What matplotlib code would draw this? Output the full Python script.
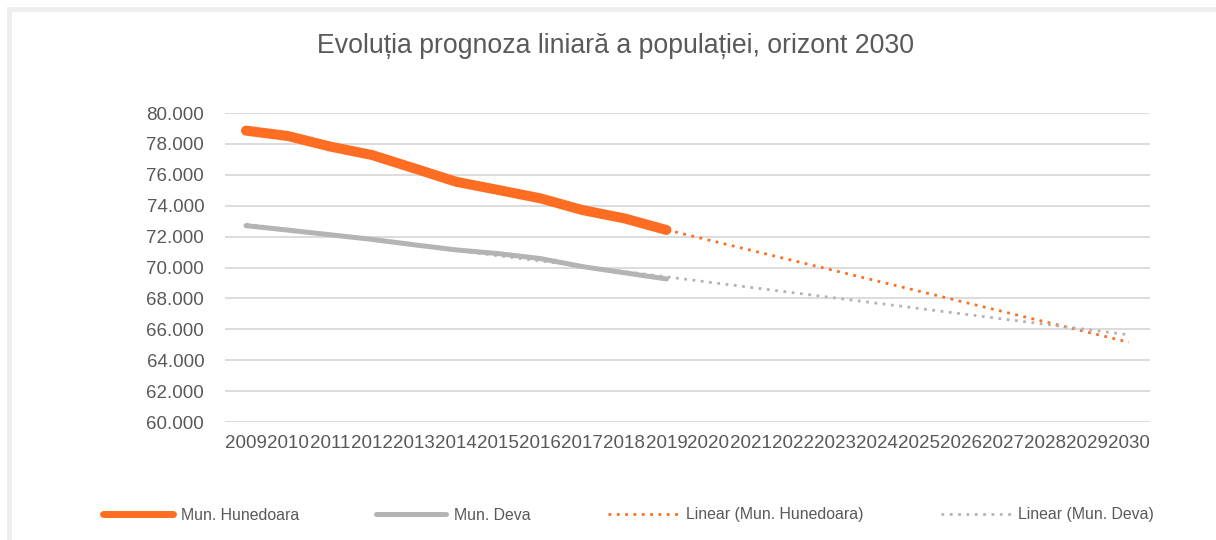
import numpy as np
import matplotlib.pyplot as plt
from matplotlib.ticker import FuncFormatter
from matplotlib.patches import Rectangle

plt.rcParams['font.family'] = ['Liberation Sans', 'DejaVu Sans']

# years on the category axis (observed + forecast horizon)
years = [str(y) for y in range(2009, 2031)]
obs_years = years[:11]

# population
hunedoara = [78860, 78510, 77830, 77280, 76420, 75550, 75020, 74480, 73720, 73180, 72430]
deva = [72710, 72420, 72120, 71820, 71470, 71140, 70900, 70580, 70060, 69660, 69260]

ORANGE = '#FF6D22'
GREY = '#B4B4B4'
TEXT = '#595959'

fig = plt.figure(figsize=(12.16, 5.40), dpi=100)
ax = fig.add_axes([0.185, 0.2185, 0.7607, 0.5722])

x_obs = np.arange(len(obs_years))
x_all = np.arange(len(years))

# Excel style linear trendlines, fitted on observed years, extended to 2030
k_h, b_h = np.polyfit(x_obs, hunedoara, 1)
k_d, b_d = np.polyfit(x_obs, deva, 1)

ax.plot(x_obs, hunedoara, color=ORANGE, lw=7.2, solid_capstyle='round',
        solid_joinstyle='round', label='Mun. Hunedoara', zorder=4)
ax.plot(x_obs, deva, color=GREY, lw=3.6, solid_capstyle='round',
        solid_joinstyle='round', label='Mun. Deva', zorder=3)
ax.plot(x_all, k_h * x_all + b_h, color=ORANGE, lw=2, ls=(0, (1, 2)),
        label='Linear (Mun. Hunedoara)', zorder=2)
ax.plot(x_all, k_d * x_all + b_d, color=GREY, lw=2, ls=(0, (1, 2)),
        label='Linear (Mun. Deva)', zorder=2)

ax.set_xlim(-0.5, len(years) - 0.5)
ax.set_ylim(60000, 80000)
ax.set_yticks(np.arange(60000, 80001, 2000))
ax.yaxis.set_major_formatter(FuncFormatter(lambda v, p: f'{int(v):,}'.replace(',', '.')))
ax.set_xticks(x_all)
ax.set_xticklabels(years)

ax.grid(axis='y', color='#D9D9D9', lw=1.3)
ax.set_axisbelow(True)
for s in ax.spines.values():
    s.set_visible(False)
ax.tick_params(axis='both', length=0, labelsize=13.5, colors=TEXT)
ax.tick_params(axis='y', pad=15)
ax.tick_params(axis='x', pad=9)

fig.text(0.506, 1 - 46 / 540, 'Evoluția prognoza liniară a populației, orizont 2030',
         ha='center', va='center', fontsize=19.2, color=TEXT)

leg = fig.legend(loc='center', bbox_to_anchor=(0.517, 1 - 515 / 540), ncol=4,
                 frameon=False, fontsize=11.4, handlelength=4.4,
                 handletextpad=0.5, columnspacing=4.9)
for t in leg.get_texts():
    t.set_color(TEXT)
leg.get_lines()[0].set_linewidth(5)

# light chart-area frame, only top and left edges are inside the picture
fig.add_artist(Rectangle((9 / 1216, -0.5), 2, 0.5 + 1 - 9 / 540,
                         transform=fig.transFigure, fill=False,
                         edgecolor='#EEEEEE', lw=3.6))

fig.savefig('out.png', dpi=100)
